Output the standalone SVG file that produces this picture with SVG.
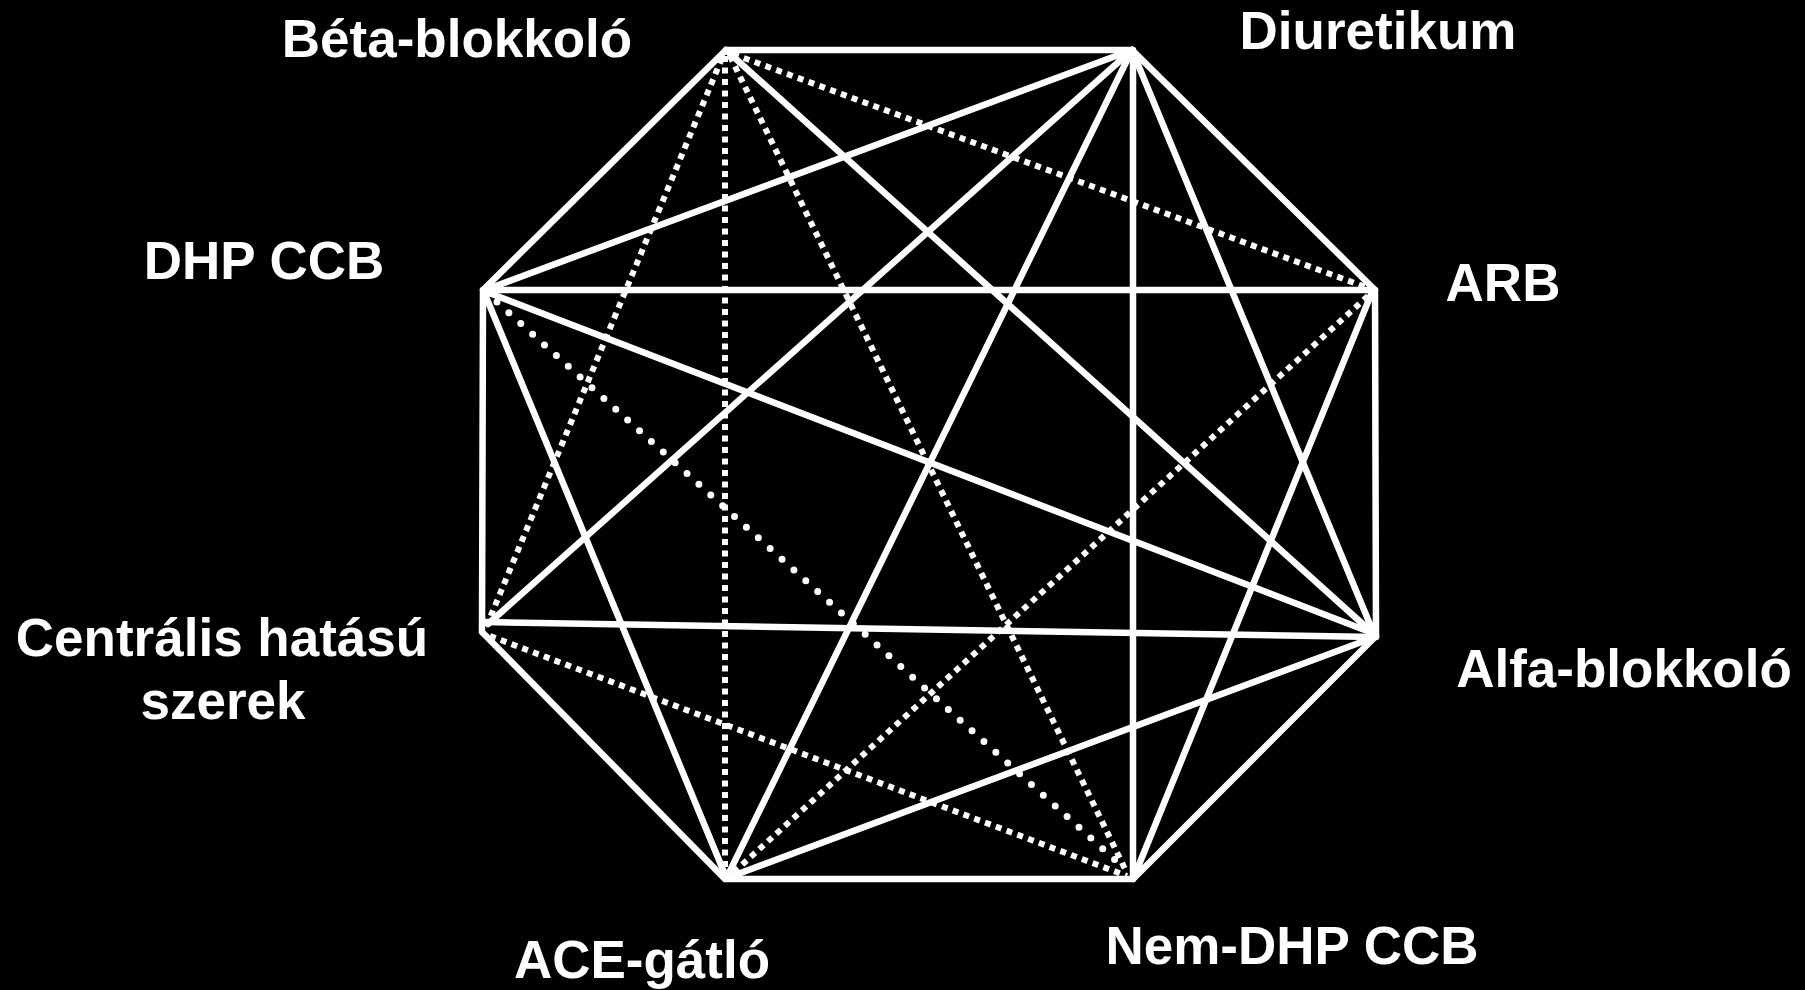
<svg xmlns="http://www.w3.org/2000/svg" width="1805" height="990" viewBox="0 0 1805 990">
<style>
.lbl{font-family:"Liberation Sans",Arial,sans-serif;font-weight:bold;font-size:53px;fill:#fff;text-anchor:middle}
.s{stroke:#fff;stroke-width:6.5;fill:none;stroke-linecap:round}
.d{stroke:#fff;stroke-width:6;fill:none;stroke-dasharray:6 5.5;stroke-linecap:butt}
.r{stroke:#fff;stroke-width:7;fill:none;stroke-dasharray:0 16;stroke-linecap:round}
.oct{stroke:#fff;stroke-width:6.5;fill:none;stroke-linejoin:miter}
</style>
<rect width="1805" height="990" fill="#000"/>
<g id="connectors">
<path class="oct" d="M726,50 L1132,50 L1375,290 L1376,636 L1133,879 L725,879 L482,632 L483,290 Z"/>
<!-- Beta -->
<line class="s" x1="726" y1="50" x2="1376" y2="636"/>
<line class="d" x1="733" y1="54" x2="1368" y2="288"/>
<line class="d" x1="730" y1="56" x2="1127" y2="873"/>
<line class="d" x1="725" y1="56" x2="725" y2="872"/>
<line class="d" x1="722" y1="58" x2="487" y2="625"/>
<!-- Diuretikum -->
<line class="s" x1="1132" y1="50" x2="485" y2="290"/>
<line class="s" x1="1132" y1="50" x2="488" y2="624"/>
<line class="s" x1="1132" y1="50" x2="727" y2="877"/>
<line class="s" x1="1133" y1="50" x2="1133" y2="879"/>
<line class="s" x1="1132" y1="50" x2="1374" y2="634"/>
<!-- DHP -->
<line class="s" x1="483" y1="290" x2="1375" y2="290"/>
<line class="s" x1="484" y1="291" x2="1375" y2="634"/>
<line class="s" x1="484" y1="292" x2="726" y2="877"/>
<line class="r" x1="497" y1="302" x2="1124" y2="868"/>
<!-- ARB -->
<line class="d" x1="1368" y1="296" x2="733" y2="873"/>
<line class="s" x1="1372" y1="292" x2="1134" y2="877"/>
<!-- Alfa -->
<line class="s" x1="484" y1="622" x2="1376" y2="637"/>
<line class="s" x1="1375" y1="637" x2="727" y2="878"/>
<!-- Centralis -->
<line class="d" x1="490" y1="636" x2="1127" y2="876"/>
</g>
<g id="node-beta"><text class="lbl" x="457" y="57">Béta-blokkoló</text></g>
<g id="node-diuretikum"><text class="lbl" x="1378" y="49">Diuretikum</text></g>
<g id="node-arb"><text class="lbl" x="1503" y="301">ARB</text></g>
<g id="node-alfa"><text class="lbl" x="1624" y="687">Alfa-blokkoló</text></g>
<g id="node-nemdhp"><text class="lbl" x="1292" y="964">Nem-DHP CCB</text></g>
<g id="node-ace"><text class="lbl" x="642" y="978">ACE-gátló</text></g>
<g id="node-centralis"><text class="lbl" x="222" y="656">Centrális hatású</text><text class="lbl" x="223" y="719">szerek</text></g>
<g id="node-dhp"><text class="lbl" x="264" y="279">DHP CCB</text></g>
</svg>
